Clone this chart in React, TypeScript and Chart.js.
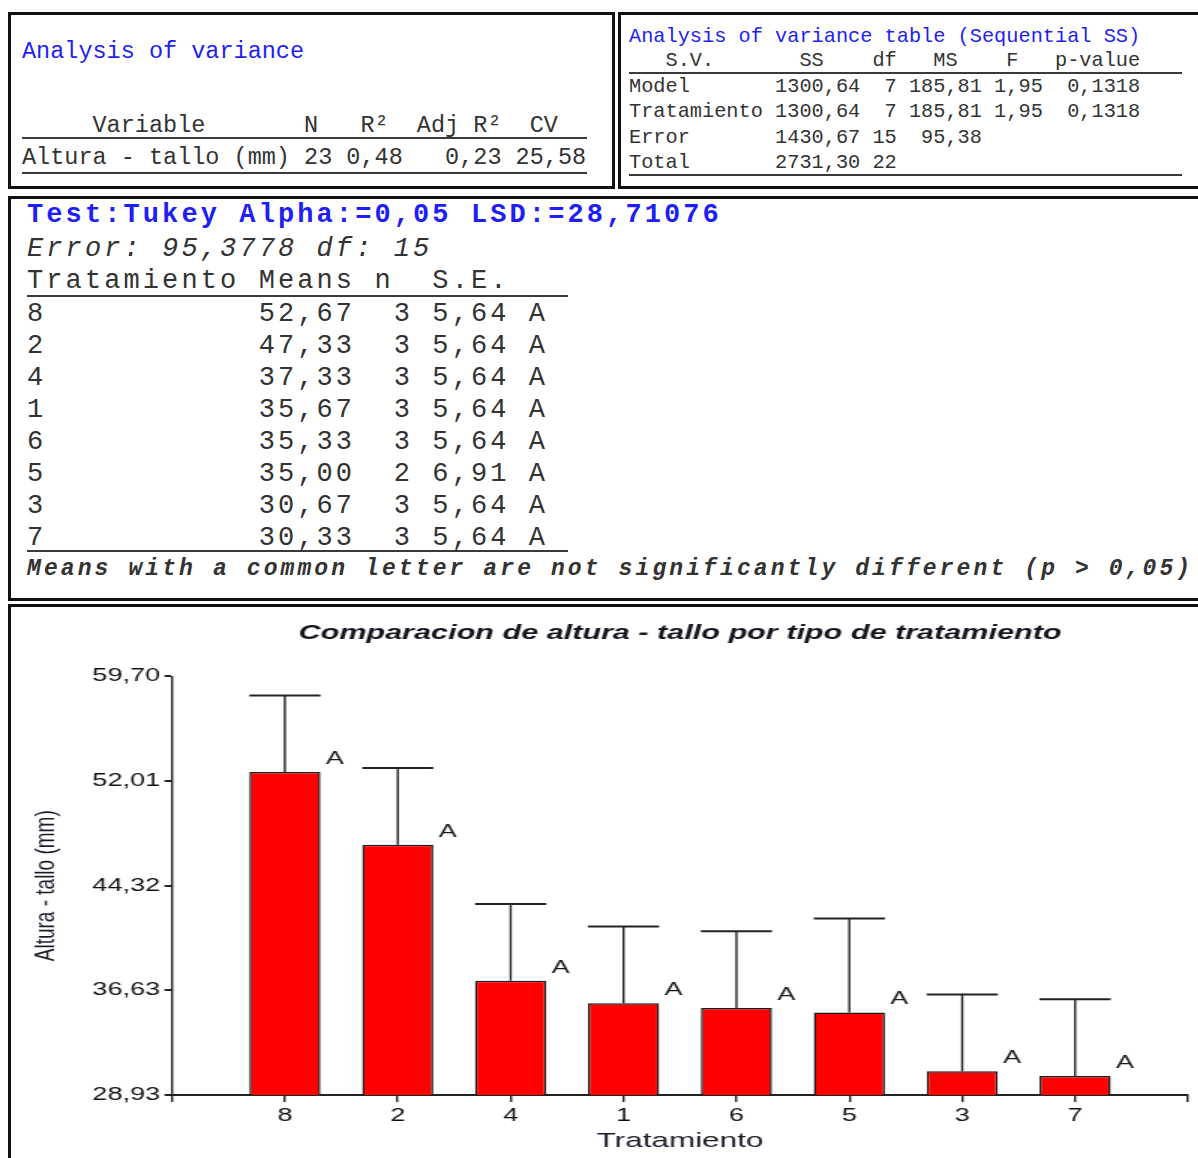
import React, { useEffect, useRef } from 'react';
import { Chart, registerables } from 'chart.js';

Chart.register(...registerables);

// ---------- data ----------
const treatments = ['8', '2', '4', '1', '6', '5', '3', '7'];
const means = [52.67, 47.33, 37.33, 35.67, 35.33, 35.0, 30.67, 30.33];
const nObs = [3, 3, 3, 3, 3, 2, 3, 3];
const stdErrors = [5.64, 5.64, 5.64, 5.64, 5.64, 6.91, 5.64, 5.64];
const groupLetters = ['A', 'A', 'A', 'A', 'A', 'A', 'A', 'A'];
const yTickValues = [28.93, 36.63, 44.32, 52.01, 59.7];

const anovaSources = ['Model', 'Tratamiento', 'Error', 'Total'];
const anovaSS = [1300.64, 1300.64, 1430.67, 2731.3];
const anovaDf = [7, 7, 15, 22];
const anovaMS = [185.81, 185.81, 95.38, null];
const anovaF = [1.95, 1.95, null, null];
const anovaP = [0.1318, 0.1318, null, null];

const summaryVariable = 'Altura - tallo (mm)';
const summaryN = 23;
const summaryR2 = 0.48;
const summaryAdjR2 = 0.23;
const summaryCV = 25.58;

const tukeyAlpha = 0.05;
const tukeyLSD = '28,71076';
const tukeyError = '95,3778';
const tukeyDf = 15;

const fmt = (v: number, d: number) => v.toFixed(d).replace('.', ',');

// ---------- text building ----------
const summaryHeader = '     Variable'.padEnd(20) + 'N' + '   ' + 'R²' + '  ' + 'Adj R²' + '  ' + 'CV';
const summaryRow =
  summaryVariable + ' ' + String(summaryN) + ' ' + fmt(summaryR2, 2) + '   ' + fmt(summaryAdjR2, 2) + ' ' + fmt(summaryCV, 2);

const anovaHeader = '   S.V.'.padEnd(14) + 'SS' + '    ' + 'df' + '   ' + 'MS' + '    ' + 'F' + '   ' + 'p-value';
const anovaRows = anovaSources.map((s, i) => {
  let r = s.padEnd(12) + fmt(anovaSS[i], 2).padStart(7) + String(anovaDf[i]).padStart(3);
  if (anovaMS[i] != null) r += fmt(anovaMS[i] as number, 2).padStart(7);
  if (anovaF[i] != null) r += fmt(anovaF[i] as number, 2).padStart(5);
  if (anovaP[i] != null) r += fmt(anovaP[i] as number, 4).padStart(8);
  return r;
});

const tukeyTitle = `Test:Tukey Alpha:=${fmt(tukeyAlpha, 2)} LSD:=${tukeyLSD}`;
const tukeyErrLine = `Error: ${tukeyError} df: ${tukeyDf}`;
const tukeyHeader = 'Tratamiento Means n  S.E.';
const tukeyRows = treatments.map(
  (t, i) => t.padEnd(12) + fmt(means[i], 2).padStart(5) + '  ' + nObs[i] + ' ' + fmt(stdErrors[i], 2) + ' ' + groupLetters[i]
);
const tukeyFoot = `Means with a common letter are not significantly different (p > ${fmt(tukeyAlpha, 2)})`;

// ---------- styling constants ----------
const MONO = '"Liberation Mono", "Courier New", monospace';
const SANS = 'Arial, "Liberation Sans", sans-serif';
const BLUE = '#1e1ef5';
const INK = '#333333';
const SX = 1.5; // horizontal stretch of the chart picture

const errorBarPlugin = {
  id: 'errorBarsLetters',
  afterDatasetsDraw(chart: any) {
    const { ctx } = chart;
    const y = chart.scales.y;
    const meta = chart.getDatasetMeta(0);
    ctx.save();
    meta.data.forEach((bar: any, idx: number) => {
      const k = idx - 1;
      if (k < 0 || k >= means.length) return;
      const p = bar.getProps(['x', 'y', 'width'], true);
      const top = y.getPixelForValue(means[k] + stdErrors[k]);
      ctx.strokeStyle = '#222222';
      ctx.lineWidth = 1.4;
      ctx.beginPath();
      ctx.moveTo(p.x, p.y);
      ctx.lineTo(p.x, top);
      ctx.stroke();
      ctx.lineWidth = 2;
      ctx.beginPath();
      ctx.moveTo(p.x - p.width / 2, top);
      ctx.lineTo(p.x + p.width / 2, top);
      ctx.stroke();
      ctx.fillStyle = '#1a1a1a';
      ctx.font = `18px ${SANS}`;
      ctx.textAlign = 'center';
      ctx.textBaseline = 'middle';
      ctx.fillText(groupLetters[k], p.x + 50 / SX, p.y - 13);
    });
    ctx.restore();
  },
};

function Line(props: { x: number; cy: number; text: string; size: number; lh?: number; color?: string; weight?: any; italic?: boolean; spacing?: number }) {
  const lh = props.lh ?? Math.round(props.size * 1.3);
  return (
    <div
      style={{
        position: 'absolute',
        left: props.x,
        top: props.cy - lh / 2,
        height: lh,
        lineHeight: lh + 'px',
        fontSize: props.size,
        fontFamily: MONO,
        whiteSpace: 'pre',
        color: props.color ?? INK,
        fontWeight: props.weight ?? 'normal',
        fontStyle: props.italic ? 'italic' : 'normal',
        letterSpacing: props.spacing ? props.spacing + 'px' : undefined,
      }}
    >
      {props.text}
    </div>
  );
}

function Rule(props: { x: number; y: number; w: number }) {
  return <div style={{ position: 'absolute', left: props.x, top: props.y, width: props.w, height: 2, background: '#3a3a3a' }} />;
}

function Box(props: { x: number; y: number; w: number; h: number }) {
  return (
    <div
      style={{
        position: 'absolute',
        left: props.x,
        top: props.y,
        width: props.w,
        height: props.h,
        border: '3px solid #111',
        boxSizing: 'border-box',
      }}
    />
  );
}

function BarChart() {
  const ref = useRef<HTMLCanvasElement | null>(null);
  useEffect(() => {
    if (!ref.current) return;
    const labels = ['', ...treatments, ''];
    const barValues = [null, ...means, null];
    const chart = new Chart(ref.current, {
      type: 'bar',
      data: {
        labels,
        datasets: [
          {
            data: barValues as any,
            backgroundColor: '#ff0000',
            borderColor: '#1a1a1a',
            borderWidth: 1.5,
            barPercentage: 0.63,
            categoryPercentage: 1,
          },
        ],
      },
      options: {
        animation: false,
        responsive: false,
        maintainAspectRatio: false,
        events: [],
        layout: { padding: { left: 0, right: 6, top: 0, bottom: 0 } },
        plugins: {
          legend: { display: false },
          tooltip: { enabled: false },
          title: {
            display: true,
            fullSize: false,
            text: 'Comparacion de altura - tallo por tipo de tratamiento',
            color: '#141420',
            font: { family: SANS, size: 20.4, weight: 'bold', style: 'italic' },
            padding: { top: 14, bottom: 31 },
          },
        },
        scales: {
          x: {
            type: 'category',
            offset: false,
            grid: {
              display: true,
              offset: false,
              drawOnChartArea: false,
              drawTicks: true,
              tickLength: 7,
              color: '#222',
              lineWidth: 1.4,
            },
            border: { display: true, color: '#222', width: 2 },
            ticks: { color: '#111', padding: 3, autoSkip: false, maxRotation: 0, font: { family: SANS, size: 18 } },
            title: {
              display: true,
              text: 'Tratamiento',
              color: '#1a1a2a',
              font: { family: SANS, size: 21 },
              padding: { top: 0, bottom: 4 },
            },
            afterFit: (s: any) => {
              s.height = 63;
            },
          },
          y: {
            min: yTickValues[0],
            max: yTickValues[yTickValues.length - 1],
            afterBuildTicks: (s: any) => {
              s.ticks = yTickValues.map((v) => ({ value: v }));
            },
            grid: { display: true, drawOnChartArea: false, drawTicks: true, tickLength: 5, color: '#222', lineWidth: 2 },
            border: { display: true, color: '#222', width: 1.4 },
            ticks: {
              color: '#111',
              padding: 3,
              font: { family: SANS, size: 18 },
              callback: (v: any) => fmt(Number(v), 2),
            },
            title: {
              display: true,
              text: 'Altura - tallo (mm)',
              color: '#1a1a2a',
              font: { family: SANS, size: 19 },
              padding: { top: 11, bottom: 0 },
            },
            afterFit: (s: any) => {
              s.width = 160 / SX;
            },
          },
        },
      },
      plugins: [errorBarPlugin],
    });
    return () => chart.destroy();
  }, []);
  return (
    <canvas
      ref={ref}
      width={790}
      height={551}
      style={{
        position: 'absolute',
        left: 12,
        top: 607,
        width: 790,
        height: 551,
        transform: `scaleX(${SX})`,
        transformOrigin: '0 0',
      }}
    />
  );
}

export default function App() {
  const midSize = 27;
  const midSpacing = 3.1;
  return (
    <div style={{ position: 'relative', width: 1198, height: 1158, overflow: 'hidden', background: '#fff' }}>
      <style>{'html,body{margin:0;padding:0;overflow:hidden;background:#fff}'}</style>

      {/* top-left box */}
      <Box x={8} y={12} w={607} h={177} />
      <Line x={22} cy={51} text="Analysis of variance" size={23.5} color={BLUE} />
      <Line x={22} cy={125} text={summaryHeader} size={23.5} />
      <Rule x={22} y={137} w={565} />
      <Line x={22} cy={157} text={summaryRow} size={23.5} />
      <Rule x={22} y={172} w={565} />

      {/* top-right box */}
      <Box x={618} y={12} w={620} h={177} />
      <Line x={629} cy={37} text="Analysis of variance table (Sequential SS)" size={20.3} color={BLUE} />
      <Line x={629} cy={61} text={anovaHeader} size={20.3} />
      <Rule x={629} y={72} w={553} />
      {anovaRows.map((r, i) => (
        <Line key={i} x={629} cy={87 + i * 25.3} text={r} size={20.3} />
      ))}
      <Rule x={629} y={174} w={553} />

      {/* Tukey box */}
      <Box x={8} y={196} w={1220} h={405} />
      <Line x={27} cy={215} text={tukeyTitle} size={midSize} spacing={midSpacing} weight="bold" color={BLUE} />
      <Line x={27} cy={249} text={tukeyErrLine} size={midSize} spacing={midSpacing} italic />
      <Line x={27} cy={281} text={tukeyHeader} size={midSize} spacing={midSpacing} />
      <Rule x={27} y={295} w={541} />
      {tukeyRows.map((r, i) => (
        <Line key={i} x={27} cy={314 + i * 32} text={r} size={midSize} spacing={midSpacing} />
      ))}
      <Rule x={27} y={550} w={541} />
      <Line x={27} cy={569} text={tukeyFoot} size={23} spacing={3.1} weight="bold" italic />

      {/* chart box */}
      <Box x={8} y={604} w={1220} h={620} />
      <BarChart />
    </div>
  );
}
